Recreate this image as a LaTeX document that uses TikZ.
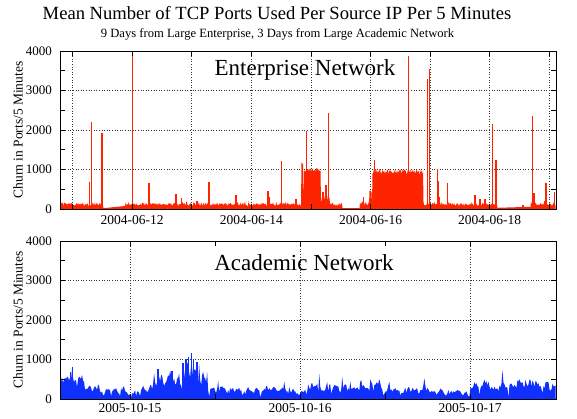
\documentclass[tikz,border=0pt]{standalone}
\usepackage{fontspec}
\setmainfont{Liberation Serif}
\definecolor{redfill}{RGB}{255,36,0}
\definecolor{bluefill}{RGB}{16,48,255}
\begin{document}
\pgfmathsetseed{4242}
\begin{tikzpicture}[x=1pt,y=-1pt,
  frame/.style={line width=0.8pt},
  gridline/.style={dotted,line width=0.6pt,black!80},
  tickmark/.style={line width=0.6pt},
  ticklab/.style={font=\fontsize{13}{13}\selectfont,inner sep=0pt},
  datelab/.style={font=\fontsize{13.5}{13.5}\selectfont,inner sep=0pt},
  axlab/.style={font=\fontsize{13.5}{13.5}\selectfont,rotate=90,inner sep=0pt},
  bigtitle/.style={font=\fontsize{18.6}{18.6}\selectfont,inner sep=0pt,anchor=base},
  subtitle/.style={font=\fontsize{12.6}{12.6}\selectfont,inner sep=0pt,anchor=base},
  netlab/.style={font=\fontsize{23}{23}\selectfont,inner sep=0pt,anchor=base},
  declare function={
    inr(\x,\a,\b)=and(\x>\a,\x<\b);
    gs(\x,\c,\w)=exp(-(min(abs(\x-\c)/\w,4))^2);
    ht(\x)=inr(\x,103,125) ? (0.8+(\x-103)*0.1) :
      (inr(\x,342,360) ? (0.8) :
      (inr(\x,497,531) ? (1.2+(\x-497)*0.03) :
      (inr(\x,301,303.5) ? (44+3*rnd) :
      (inr(\x,303.5,321) ? (37+4*rnd) :
      (inr(\x,321,330) ? (4+10*rnd) :
      (inr(\x,360,369) ? (3+5*rnd) :
      (inr(\x,369,372) ? (16+3*rnd) :
      (inr(\x,372,423.5) ? (35+5*rnd) :
      (3+3.2*rnd+(rnd>0.92)*3*rnd)))))))));
    envb(\x)=10+11*gs(\x,76,14)+7*gs(\x,71,4)-6*gs(\x,130,4)-1.5*inr(\x,100,128)
      +6*gs(\x,122,1.5)+12*gs(\x,166,14)+28*gs(\x,191,8)+10*gs(\x,203,6)
      -7*gs(\x,300,3)+3*inr(\x,300,385)-2*inr(\x,430,470)-6*gs(\x,470,3)
      +5*inr(\x,470,560);
    wob(\x)=0.15*sin(41*mod(\x,360))+0.15*sin(23*mod(\x,360)+50)+0.1*sin(96*mod(\x,15)+30)+0.1*sin(7*mod(\x,360));
    hb(\x)=envb(\x)*(0.7+0.42*rnd+wob(\x)+(rnd>0.95)*0.6-(rnd<0.04)*0.45);
  }]
\useasboundingbox (0,0) rectangle (577,418);

% titles
\node[bigtitle] (title) at (277,19) {Mean Number of TCP Ports Used Per Source IP Per 5 Minutes};
\node[subtitle] (subtitle) at (277.5,37.5) {9 Days from Large Enterprise, 3 Days from Large Academic Network};

% ---------- top plot ----------
\foreach \gy in {169.5,130,90.5}
  \draw[gridline] (60,\gy) -- (556,\gy);
\foreach \gx in {72.5,132.1,191.7,251.3,310.9,370.5,430.1,489.7,549.3}
  \draw[gridline] (\gx,51) -- (\gx,209);
\fill[redfill] (60.5,209) -- plot[variable=\x,domain=60.5:555.5,samples=991] (\x,{209-ht(\x)}) -- (555.5,209) -- cycle;
\foreach \sx/\sh in {62/6,89.3/27,91.5/87,102/76,132.7/156,149/26,176/15,181.7/11,197/8,209/27,
  236/14,268/18,269/12,281.7/48,296/10,306.7/78,323/17,326/24,328.7/96,363.5/12,374.7/49,
  408.3/153,427.7/130,429.3/140,437.3/40,438.3/28,439.3/12,447.3/26,475/14,480/10,485/10,
  492.7/85,496/49,523/4,532.7/93,534/16,545/8,546/26,554.3/17}
  \fill[redfill] ({\sx-0.6},209) rectangle ({\sx+0.6},{209-\sh});
\foreach \ty in {209,189.25,169.5,149.75,130,110.25,90.5,70.75,51}{
  \draw[tickmark] (60,\ty) -- (65,\ty);
  \draw[tickmark] (556,\ty) -- (551,\ty);}
\foreach \tx in {72.5,132.1,191.7,251.3,310.9,370.5,430.1,489.7,549.3}{
  \draw[tickmark] (\tx,209) -- (\tx,204);
  \draw[tickmark] (\tx,51) -- (\tx,56);}
\draw[frame] (60,51) rectangle (556,209);
\foreach \v/\ty in {0/209,1000/169.5,2000/130,3000/90.5,4000/51}
  \node[ticklab,anchor=east] (ta\v) at (52,\ty) {\v};
\foreach \d/\tx in {12/132.1,14/251.3,16/370.5,18/489.7}
  \node[datelab] (da\d) at (\tx,220) {2004-06-\d};
\node[axlab] (ylabA) at (18,130) {Churn in Ports/5 Minutes};
\node[netlab] (enet) at (305,75) {Enterprise Network};

% ---------- bottom plot ----------
\foreach \gy in {359.5,320,280.5}
  \draw[gridline] (60,\gy) -- (556,\gy);
\foreach \gx in {130,300,470}
  \draw[gridline] (\gx,241) -- (\gx,399);
\fill[bluefill] (61,399) -- plot[variable=\x,domain=61:555.5,samples=495] (\x,{399-max(1,hb(\x))}) -- (555.5,399) -- cycle;
\foreach \sx/\sh in {72.3/32,70.5/27,183/36,186/40,188.5/42,191.7/46,193.5/40,197/37,158/30,172/28}
  \fill[bluefill] ({\sx-0.7},399) rectangle ({\sx+0.7},{399-\sh});
\foreach \ty in {399,379.25,359.5,339.75,320,300.25,280.5,260.75,241}{
  \draw[tickmark] (60,\ty) -- (65,\ty);
  \draw[tickmark] (556,\ty) -- (551,\ty);}
\foreach \tx in {130,215,300,385,470}{
  \draw[tickmark] (\tx,399) -- (\tx,394);
  \draw[tickmark] (\tx,241) -- (\tx,246);}
\draw[frame] (60,241) rectangle (556,399);
\foreach \v/\ty in {0/399,1000/359.5,2000/320,3000/280.5,4000/241}
  \node[ticklab,anchor=east] (tb\v) at (52,\ty) {\v};
\foreach \d/\tx in {15/130,16/300,17/470}
  \node[datelab] (db\d) at (\tx,408) {2005-10-\d};
\node[axlab] (ylabB) at (18,320) {Churn in Ports/5 Minutes};
\node[netlab] (anet) at (304,270) {Academic Network};
\end{tikzpicture}
\end{document}
